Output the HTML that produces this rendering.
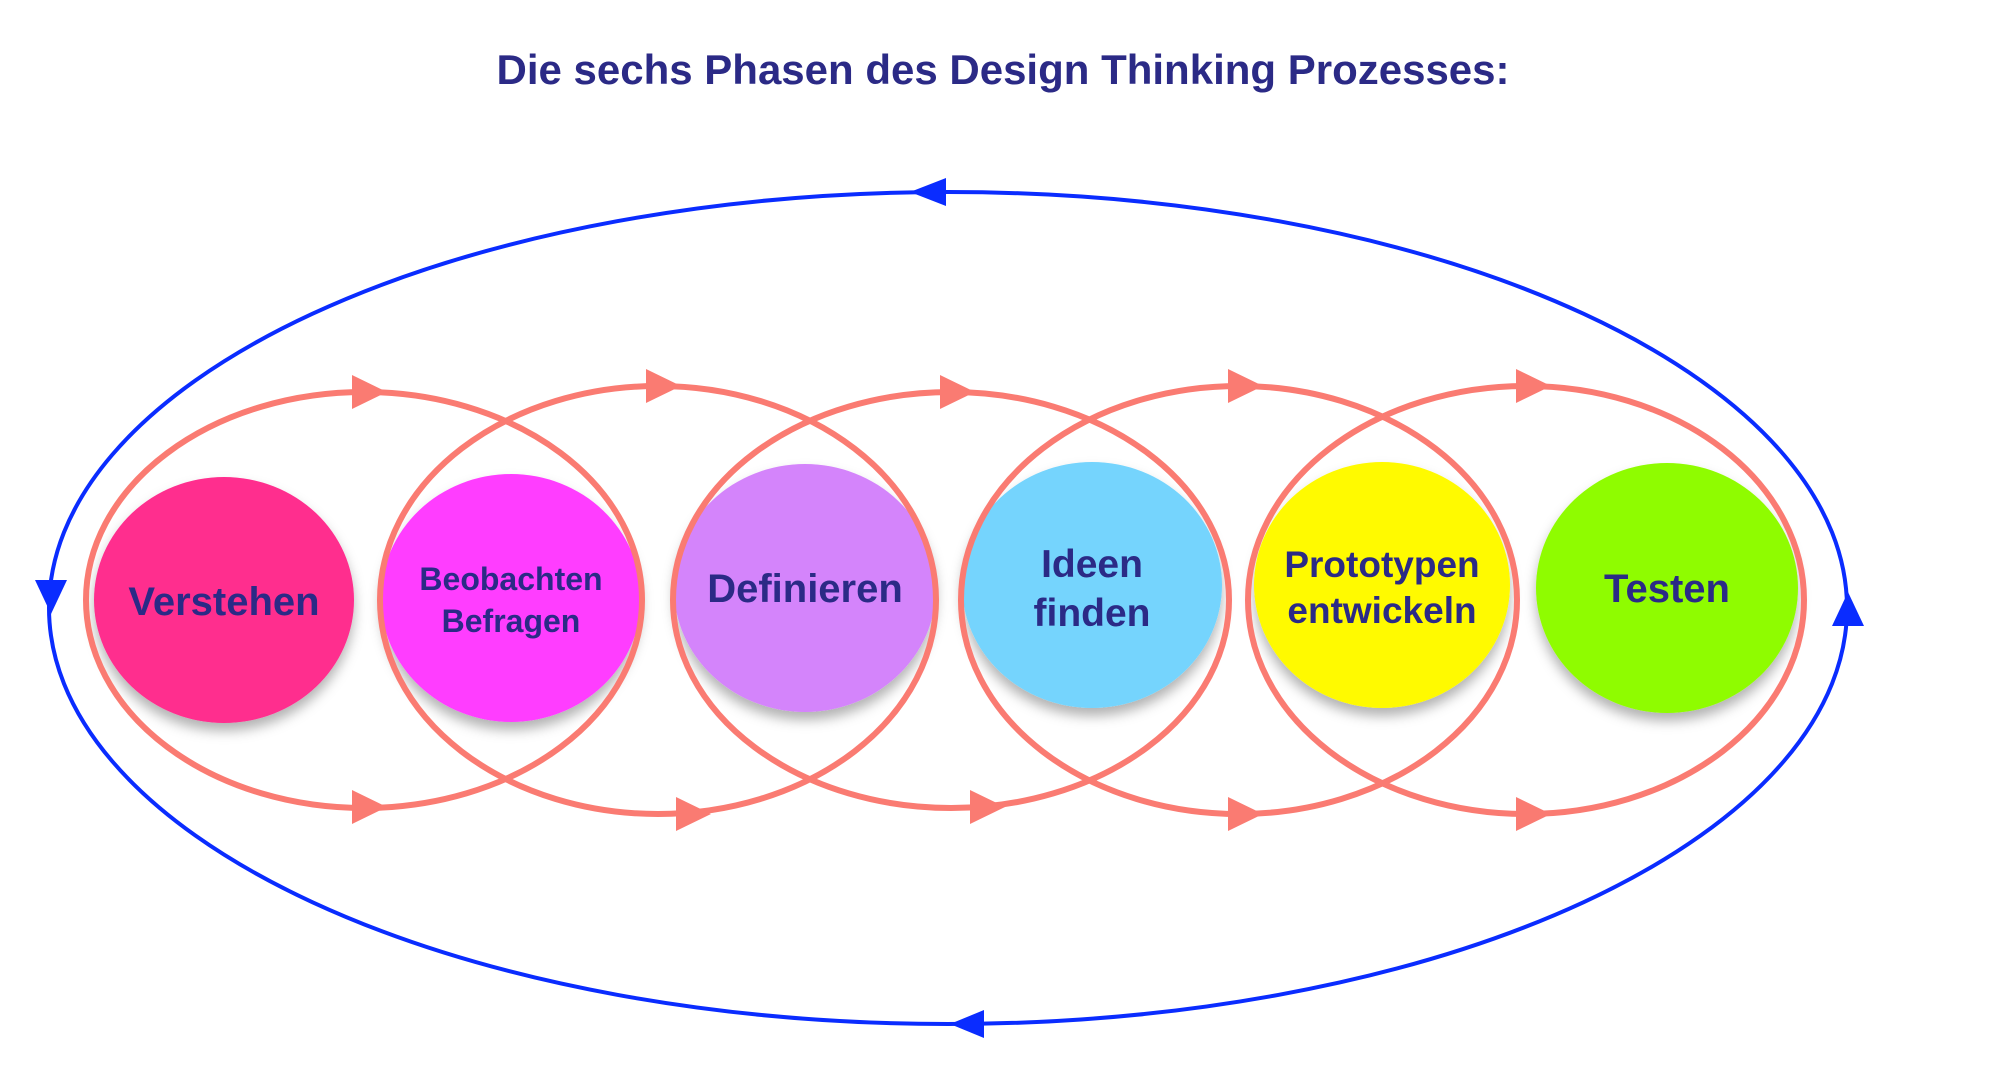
<!DOCTYPE html>
<html><head><meta charset="utf-8"><style>
html,body{margin:0;padding:0;background:#fff;}
svg{display:block;}
text{font-family:"Liberation Sans",Arial,sans-serif;font-weight:bold;fill:#2b2a86;text-anchor:middle;}
</style></head><body>
<svg width="2000" height="1074" viewBox="0 0 2000 1074">
<defs>
<filter id="sh" x="-20%" y="-20%" width="140%" height="150%">
<feDropShadow dx="0" dy="8" stdDeviation="6" flood-color="#000" flood-opacity="0.3"/>
</filter>
</defs>
<text x="1003" y="84" font-size="42">Die sechs Phasen des Design Thinking Prozesses:</text>

<ellipse cx="948" cy="608" rx="899" ry="416" fill="none" stroke="#0a2cff" stroke-width="4"/>
<polygon points="910,192 946,178 946,206" fill="#0a2cff"/>
<polygon points="950,1024 984,1010 984,1038" fill="#0a2cff"/>
<polygon points="51,614 35,580 67,580" fill="#0a2cff"/>
<polygon points="1848,592 1832,626 1864,626" fill="#0a2cff"/>

<g filter="url(#sh)">
<ellipse cx="224" cy="600" rx="130" ry="123" fill="#ff2d8e"/>
<ellipse cx="511" cy="598" rx="130" ry="124" fill="#ff3cff"/>
<ellipse cx="805" cy="588" rx="131" ry="124" fill="#d484fb"/>
<ellipse cx="1092" cy="585" rx="130" ry="123" fill="#74d4fd"/>
<ellipse cx="1382" cy="585" rx="128" ry="123" fill="#fffa00"/>
<ellipse cx="1667" cy="588" rx="131" ry="125" fill="#8ffc00"/>
</g>

<g fill="none" stroke="#fa7b72" stroke-width="6">
<ellipse cx="364" cy="600" rx="278" ry="208"/>
<ellipse cx="658" cy="600" rx="278" ry="214"/>
<ellipse cx="951" cy="600" rx="278" ry="208"/>
<ellipse cx="1239" cy="600" rx="278" ry="214"/>
<ellipse cx="1526" cy="600" rx="278" ry="214"/>
</g>
<g fill="#fa7b72">
<polygon points="352,375 387,392 352,409"/>
<polygon points="646,369 681,386 646,403"/>
<polygon points="940,375 975,392 940,409"/>
<polygon points="1228,369 1263,386 1228,403"/>
<polygon points="1516,369 1551,386 1516,403"/>
<polygon points="352,790 387,807 352,824"/>
<polygon points="676,797 711,814 676,831"/>
<polygon points="970,790 1005,807 970,824"/>
<polygon points="1228,797 1263,814 1228,831"/>
<polygon points="1516,797 1551,814 1516,831"/>
</g>

<text x="224" y="615" font-size="40">Verstehen</text>
<text x="511" y="590" font-size="32">Beobachten</text>
<text x="511" y="632" font-size="32">Befragen</text>
<text x="805" y="602" font-size="40">Definieren</text>
<text x="1092" y="577" font-size="39">Ideen</text>
<text x="1092" y="626" font-size="39">finden</text>
<text x="1382" y="577" font-size="37">Prototypen</text>
<text x="1382" y="623" font-size="37">entwickeln</text>
<text x="1667" y="602" font-size="40">Testen</text>
</svg>
</body></html>
